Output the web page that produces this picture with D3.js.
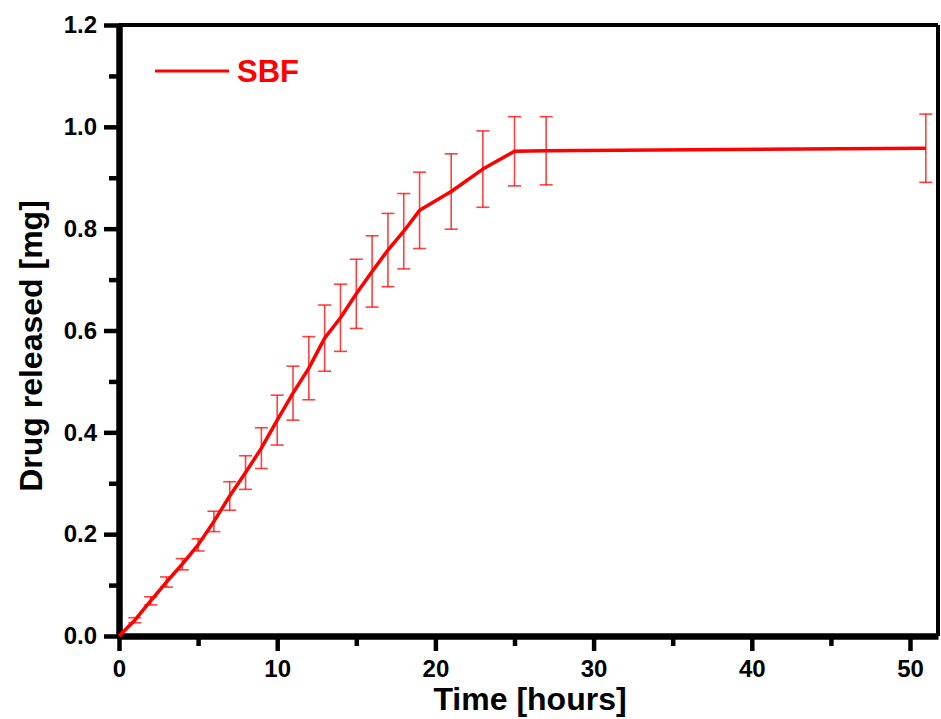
<!DOCTYPE html>
<html>
<head>
<meta charset="utf-8">
<script src="https://cdn.jsdelivr.net/npm/d3@7"></script>
<style>
  body { margin: 0; background: #fff; }
  text { font-family: "Liberation Sans", Arial, sans-serif; font-weight: bold; }
</style>
</head>
<body>
<div id="container"></div>
<script>
/* CONSTANTS AND GLOBALS */
const width = 941,
  height = 719,
  margin = {top: 25, bottom: 83, left: 119, right: 3};

// data
const times = [0, 1, 2, 3, 4, 5, 6, 7, 8, 9, 10, 11, 12, 13, 14, 15, 16, 17, 18, 19, 21, 23, 25, 27, 51];
const released = [0, 0.031, 0.069, 0.106, 0.141, 0.179, 0.225, 0.275, 0.321, 0.369, 0.424, 0.477, 0.526,
  0.585, 0.625, 0.672, 0.716, 0.758, 0.795, 0.836, 0.873, 0.917, 0.952, 0.953, 0.958];
const errors = [0, 0.005, 0.008, 0.010, 0.011, 0.012, 0.020, 0.028, 0.033, 0.040, 0.049, 0.053, 0.062,
  0.065, 0.066, 0.068, 0.070, 0.072, 0.074, 0.075, 0.074, 0.075, 0.068, 0.067, 0.067];

const xTicks = [0, 10, 20, 30, 40, 50];
const xMinorTicks = [5, 15, 25, 35, 45];
const yTicks = [0, 0.2, 0.4, 0.6, 0.8, 1.0, 1.2];
const yMinorTicks = [0.1, 0.3, 0.5, 0.7, 0.9, 1.1];
const seriesName = "SBF";

const red = "#ff0000";

let svg, xScale, yScale;

const data = times.map((t, i) => ({t: t, v: released[i], e: errors[i]}));

init();

function init() {
  xScale = d3.scaleLinear()
    .domain([0, 51.77])
    .range([margin.left, width - margin.right]);

  yScale = d3.scaleLinear()
    .domain([0, 1.2])
    .range([height - margin.bottom, margin.top]);

  svg = d3.select("#container")
    .append("svg")
    .attr("width", width)
    .attr("height", height)
    .style("background", "#fff");

  // top + right frame lines (thinner)
  svg.append("line")
    .attr("x1", margin.left).attr("x2", width - margin.right)
    .attr("y1", yScale(1.2)).attr("y2", yScale(1.2))
    .attr("stroke", "#000").attr("stroke-width", 4);
  svg.append("line")
    .attr("x1", xScale.range()[1]).attr("x2", xScale.range()[1])
    .attr("y1", margin.top).attr("y2", height - margin.bottom)
    .attr("stroke", "#000").attr("stroke-width", 4);

  // minor ticks
  svg.append("g")
    .attr("transform", `translate(0, ${height - margin.bottom})`)
    .call(d3.axisBottom(xScale).tickValues(xMinorTicks).tickSize(10).tickFormat(""))
    .call(g => g.select(".domain").remove())
    .call(g => g.selectAll("line").attr("stroke-width", 4.5));

  svg.append("g")
    .attr("transform", `translate(${margin.left}, 0)`)
    .call(d3.axisLeft(yScale).tickValues(yMinorTicks).tickSize(10).tickFormat(""))
    .call(g => g.select(".domain").remove())
    .call(g => g.selectAll("line").attr("stroke-width", 4.5));

  // major axes
  const xAxisGroup = svg.append("g")
    .attr("class", "xAxis")
    .attr("transform", `translate(0, ${height - margin.bottom})`)
    .call(d3.axisBottom(xScale).tickValues(xTicks).tickSize(15).tickSizeOuter(0).tickPadding(9).tickFormat(d3.format("d")));

  xAxisGroup.select(".domain").attr("stroke-width", 6.5);
  xAxisGroup.selectAll(".tick line").attr("stroke-width", 4.5);
  xAxisGroup.selectAll(".tick text").attr("font-size", 24).attr("fill", "#000");

  const yAxisGroup = svg.append("g")
    .attr("class", "yAxis")
    .attr("transform", `translate(${margin.left}, 0)`)
    .call(d3.axisLeft(yScale).tickValues(yTicks).tickSize(15).tickSizeOuter(0).tickPadding(7).tickFormat(d3.format(".1f")));

  yAxisGroup.select(".domain").attr("stroke-width", 6.5);
  yAxisGroup.selectAll(".tick line").attr("stroke-width", 4.5);
  yAxisGroup.selectAll(".tick text").attr("font-size", 24).attr("fill", "#000");

  // axis titles
  svg.append("text")
    .attr("x", 530)
    .attr("y", 710)
    .attr("text-anchor", "middle")
    .attr("font-size", 32)
    .text("Time [hours]");

  svg.append("text")
    .attr("transform", "translate(42, 346) rotate(-90)")
    .attr("text-anchor", "middle")
    .attr("font-size", 32)
    .text("Drug released [mg]");

  // legend
  svg.append("line")
    .attr("x1", 155).attr("x2", 229)
    .attr("y1", 71).attr("y2", 71)
    .attr("stroke", red).attr("stroke-width", 3);
  svg.append("text")
    .attr("x", 237)
    .attr("y", 82)
    .attr("font-size", 31)
    .attr("fill", red)
    .text(seriesName);

  draw();
}

function draw() {
  // error bars
  const bars = svg.append("g")
    .attr("stroke", red)
    .attr("stroke-opacity", 0.75)
    .attr("stroke-width", 1.6)
    .selectAll("g")
    .data(data.filter(d => d.e > 0))
    .join("g");

  bars.append("line")
    .attr("x1", d => xScale(d.t)).attr("x2", d => xScale(d.t))
    .attr("y1", d => yScale(d.v - d.e)).attr("y2", d => yScale(d.v + d.e));
  bars.append("line")
    .attr("x1", d => xScale(d.t) - 6.5).attr("x2", d => xScale(d.t) + 6.5)
    .attr("y1", d => yScale(d.v - d.e)).attr("y2", d => yScale(d.v - d.e));
  bars.append("line")
    .attr("x1", d => xScale(d.t) - 6.5).attr("x2", d => xScale(d.t) + 6.5)
    .attr("y1", d => yScale(d.v + d.e)).attr("y2", d => yScale(d.v + d.e));

  const line = d3.line()
    .x(d => xScale(d.t))
    .y(d => yScale(d.v));

  svg.append("path")
    .datum(data)
    .attr("fill", "none")
    .attr("stroke", red)
    .attr("stroke-width", 3.5)
    .attr("stroke-linejoin", "round")
    .attr("d", line);
}
</script>
</body>
</html>
